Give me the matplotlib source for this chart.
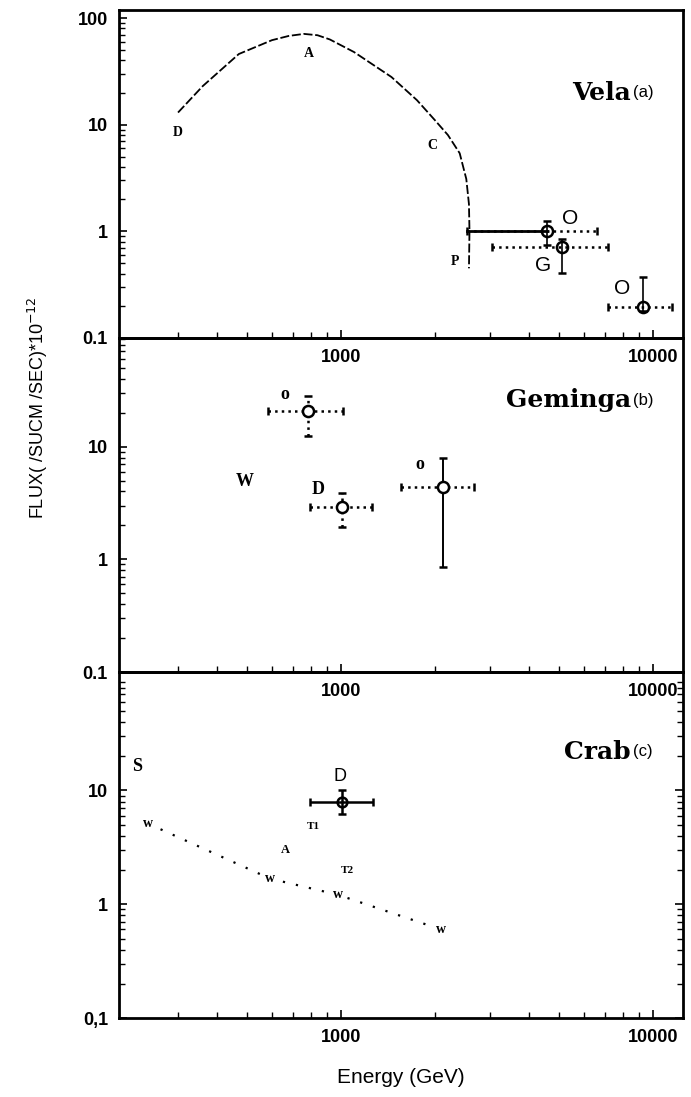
import matplotlib.pyplot as plt
from matplotlib.ticker import FixedLocator, FixedFormatter, NullFormatter

# ---- Vela (a) ----
vela_curve_e = [300, 360, 470, 600, 680, 760, 840, 920, 1100, 1450, 1750, 2000, 2200, 2400, 2520, 2570, 2580, 2570]
vela_curve_f = [13, 23, 46, 62, 68, 71, 69, 63, 48, 28, 17, 11, 8, 5.4, 3.1, 1.8, 1.0, 0.45]
vela_e = [4575, 5115, 9290]
vela_f = [1.0, 0.71, 0.195]
vela_e_lo = [2530, 3050, 7170]
vela_e_hi = [6610, 7170, 11500]
vela_f_lo = [0.74, 0.41, 0.18]
vela_f_hi = [1.25, 0.85, 0.37]
vela_tags = ["D", "A", "C", "P"]
vela_tag_e = [300, 790, 1960, 2320]
vela_tag_f = [8.5, 47, 6.4, 0.52]
vela_big = ["O", "G", "O"]
vela_big_e = [5420, 4440, 7960]
vela_big_f = [1.33, 0.48, 0.29]

# ---- Geminga (b) ----
gem_e = [784, 1007, 2122]
gem_f = [20.9, 2.93, 4.4]
gem_e_lo = [583, 795, 1557]
gem_e_hi = [1015, 1257, 2670]
gem_f_lo = [12.5, 1.95, 0.86]
gem_f_hi = [28.4, 3.9, 8.0]
gem_tags = ["o", "D", "o", "W"]
gem_tag_e = [661, 844, 1793, 492]
gem_tag_f = [29, 4.15, 6.9, 4.9]

# ---- Crab (c) ----
crab_w_e = [241, 592, 978, 2092]
crab_w_f = [5.1, 1.68, 1.21, 0.6]
crab_e = [1007]
crab_f = [8.0]
crab_e_lo = [795]
crab_e_hi = [1266]
crab_f_lo = [6.2]
crab_f_hi = [10.2]
crab_tags = ["S", "A", "T1", "T2"]
crab_tag_e = [222, 661, 813, 1045]
crab_tag_f = [16.3, 3.0, 4.8, 2.0]
crab_tag_size = [13, 9, 8, 8]

titles = ["Vela", "Geminga", "Crab"]
subtitles = ["(a)", "(b)", "(c)"]
title_y = [0.747, 0.814, 0.77]
ylims = [(0.1, 119), (0.1, 92), (0.1, 110)]
ytick_vals = [[0.1, 1, 10, 100], [0.1, 1, 10], [0.1, 1, 10]]
ytick_text = [["0.1", "1", "10", "100"], ["0.1", "1", "10"], ["0,1", "1", "10"]]

x_major = [1000, 10000]
x_minor = [300, 400, 500, 600, 700, 800, 900, 2000, 3000, 4000, 5000, 6000, 7000, 8000, 9000]
y_minor = [m * d for d in [0.1, 1, 10] for m in range(2, 10)]

serif = "Liberation Serif"
sans = "Liberation Sans"

fig = plt.figure(figsize=(6.91, 10.97), dpi=100)
boxes = [[0.1722, 0.6919, 0.8162, 0.299],
         [0.1722, 0.3874, 0.8162, 0.3045],
         [0.1722, 0.0720, 0.8162, 0.3154]]
axes = [fig.add_axes(b) for b in boxes]

for i, ax in enumerate(axes):
    ax.set_xscale("log")
    ax.set_yscale("log")
    ax.set_xlim(194, 12480)
    ax.set_ylim(*ylims[i])
    ax.patch.set_visible(False)
    ax.xaxis.set_major_locator(FixedLocator(x_major))
    ax.xaxis.set_major_formatter(FixedFormatter(["1000", "10000"]))
    ax.xaxis.set_minor_locator(FixedLocator(x_minor))
    ax.xaxis.set_minor_formatter(NullFormatter())
    ax.yaxis.set_major_locator(FixedLocator(ytick_vals[i]))
    ax.yaxis.set_major_formatter(FixedFormatter(ytick_text[i]))
    ax.yaxis.set_minor_locator(FixedLocator(y_minor))
    ax.yaxis.set_minor_formatter(NullFormatter())
    ax.tick_params(which="both", direction="in", top=False, right=(i == 2))
    ax.tick_params(which="major", length=6, width=1.2, labelsize=13, pad=8)
    ax.tick_params(which="minor", length=4, width=1.0)
    for lab in ax.get_xticklabels() + ax.get_yticklabels():
        lab.set_fontfamily(sans)
        lab.set_fontweight("bold")
    for s in ax.spines.values():
        s.set_linewidth(2)
    ax.text(0.908, title_y[i], titles[i], transform=ax.transAxes, ha="right",
            va="center", family="DejaVu Serif", fontweight="bold", fontsize=18)
    ax.text(0.912, title_y[i], subtitles[i], transform=ax.transAxes, ha="left",
            va="center", family=sans, fontsize=12)

# Vela panel
ax = axes[0]
ax.plot(vela_curve_e, vela_curve_f, color="black", lw=1.3, ls=(0, (5, 1.5)))
for k in range(len(vela_e)):
    xerr = [[vela_e[k] - vela_e_lo[k]], [vela_e_hi[k] - vela_e[k]]]
    yerr = [[vela_f[k] - vela_f_lo[k]], [vela_f_hi[k] - vela_f[k]]]
    _, caps, bars = ax.errorbar([vela_e[k]], [vela_f[k]], xerr=xerr, yerr=yerr,
                                fmt="o", ms=8, mfc="none", mec="black", mew=1.8,
                                ecolor="black", elinewidth=1.2, capsize=3)
    bars[0].set_linestyle(":")
    bars[0].set_linewidth(1.8)
# solid part of first Vela bar
ax.plot([vela_e_lo[0], vela_e[0]], [vela_f[0], vela_f[0]], color="black", lw=2)
for t, e, f in zip(vela_tags, vela_tag_e, vela_tag_f):
    ax.text(e, f, t, ha="center", va="center", family=serif, fontweight="bold", fontsize=10)
for t, e, f in zip(vela_big, vela_big_e, vela_big_f):
    ax.text(e, f, t, ha="center", va="center", family=sans, fontsize=15)

# Geminga panel
ax = axes[1]
for k in range(len(gem_e)):
    xerr = [[gem_e[k] - gem_e_lo[k]], [gem_e_hi[k] - gem_e[k]]]
    yerr = [[gem_f[k] - gem_f_lo[k]], [gem_f_hi[k] - gem_f[k]]]
    _, caps, bars = ax.errorbar([gem_e[k]], [gem_f[k]], xerr=xerr, yerr=yerr,
                                fmt="o", ms=8, mfc="white", mec="black", mew=1.8,
                                ecolor="black", elinewidth=1.4, capsize=3, zorder=3)
    bars[0].set_linestyle(":")
    bars[0].set_linewidth(1.8)
    if k < 2:
        bars[1].set_linestyle(":")
        bars[1].set_linewidth(1.8)
for t, e, f in zip(gem_tags, gem_tag_e, gem_tag_f):
    ax.text(e, f, t, ha="center", va="center", family=serif, fontweight="bold", fontsize=13)

# Crab panel
ax = axes[2]
ax.plot(crab_w_e, crab_w_f, color="black", lw=1.6, ls=(0, (1, 5)))
for e, f in zip(crab_w_e, crab_w_f):
    ax.text(e, f, "w", ha="center", va="center", family=serif, fontweight="bold", fontsize=10,
            bbox=dict(facecolor="white", edgecolor="none", pad=0.5))
xerr = [[crab_e[0] - crab_e_lo[0]], [crab_e_hi[0] - crab_e[0]]]
yerr = [[crab_f[0] - crab_f_lo[0]], [crab_f_hi[0] - crab_f[0]]]
ax.errorbar(crab_e, crab_f, xerr=xerr, yerr=yerr, fmt="o", ms=7, mfc="none",
            mec="black", mew=1.8, ecolor="black", elinewidth=1.8, capsize=3)
for t, e, f, s in zip(crab_tags, crab_tag_e, crab_tag_f, crab_tag_size):
    ax.text(e, f, t, ha="center", va="center", family=serif, fontweight="bold", fontsize=s)
ax.text(993, 13.3, "D", ha="center", va="center", family=sans, fontsize=13)
ax.set_xlabel("Energy (GeV)", family=sans, fontsize=15, labelpad=16)

fig.text(0.055, 0.628, "FLUX( /SUCM /SEC)*10$^{-12}$", rotation=90, ha="center",
         va="center", family=sans, fontsize=13)

fig.savefig("out.png", dpi=100)
